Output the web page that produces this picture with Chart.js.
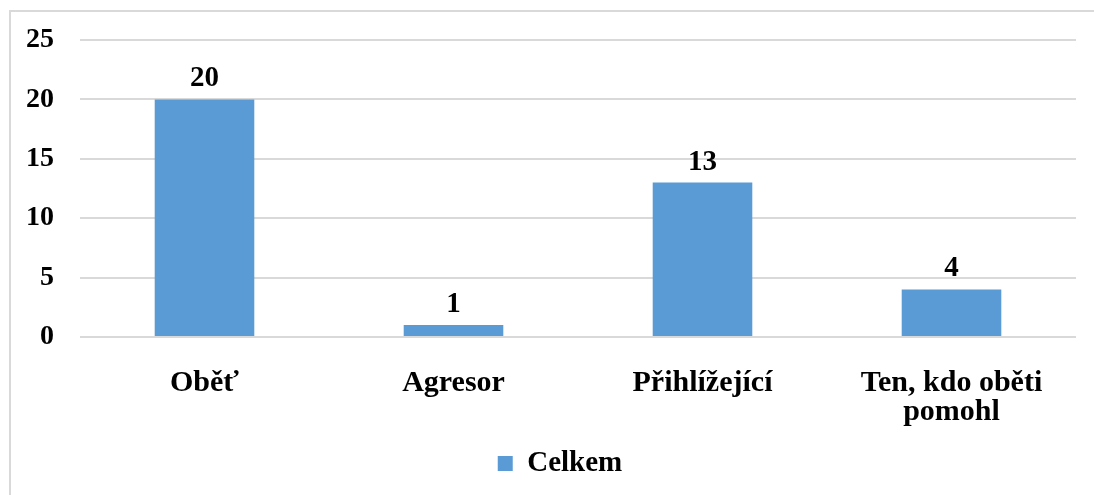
<!DOCTYPE html>
<html>
<head>
<meta charset="utf-8">
<script src="https://cdn.jsdelivr.net/npm/chart.js@4"></script>
<style>
    html, body { margin: 0; padding: 0; background: #fff; overflow: hidden; }
    #wrap { position: absolute; left: 0; top: 0; width: 1094px; height: 495px; }
</style>
</head>
<body>
<div id="wrap"><canvas id="barChart"></canvas></div>
<script>
const categories = ["Oběť", "Agresor", "Přihlížející", ["Ten, kdo oběti", "pomohl"]];
const values = [20, 1, 13, 4];
const seriesName = "Celkem";
const yTicks = [0, 5, 10, 15, 20, 25];

const serif = "'Liberation Serif', 'Times New Roman', serif";

// rámeček grafu (jen horní a levá hrana jsou v záběru)
const frame = {
    id: "frame",
    beforeDraw(chart) {
        const ctx = chart.ctx;
        ctx.save();
        ctx.strokeStyle = "#d9d9d9";
        ctx.lineWidth = 2;
        ctx.beginPath();
        ctx.moveTo(10, chart.height);
        ctx.lineTo(10, 11);
        ctx.lineTo(chart.width, 11);
        ctx.stroke();
        ctx.restore();
    },
    // legenda je v originále trochu vpravo od středu
    afterLayout(chart) {
        chart.legend.left += 22;
        chart.legend.right += 22;
    }
};

// popisky hodnot nad sloupci
const valueLabels = {
    id: "valueLabels",
    afterDatasetsDraw(chart) {
        const ctx = chart.ctx;
        const meta = chart.getDatasetMeta(0);
        ctx.save();
        ctx.font = "bold 29px " + serif;
        ctx.fillStyle = "#000";
        ctx.textAlign = "center";
        ctx.textBaseline = "bottom";
        meta.data.forEach((bar, i) => {
            ctx.fillText(values[i], bar.x, bar.y - 6);
        });
        ctx.restore();
    }
};

new Chart(document.querySelector("#barChart"), {
    type: "bar",
    data: {
        labels: categories,
        datasets: [{
            label: seriesName,
            data: values,
            backgroundColor: "#5B9BD5",
            borderWidth: 0,
            categoryPercentage: 0.4,
            barPercentage: 1
        }]
    },
    options: {
        responsive: true,
        maintainAspectRatio: false,
        animation: false,
        layout: { padding: { top: 30, right: 18, bottom: 7, left: 0 } },
        plugins: {
            tooltip: { enabled: false },
            legend: {
                position: "bottom",
                labels: {
                    color: "#000",
                    font: { family: serif, size: 29, weight: "bold" },
                    boxWidth: 15,
                    boxHeight: 15,
                    padding: 10
                }
            }
        },
        scales: {
            x: {
                grid: { display: false },
                border: { display: false },
                ticks: { color: "#000", font: { family: serif, size: 30, weight: "bold", lineHeight: 0.95 }, padding: 24, maxRotation: 0 },
                afterFit(scale) { scale.height = 102; }
            },
            y: {
                min: 0,
                max: 25,
                afterBuildTicks(scale) { scale.ticks = yTicks.map(v => ({ value: v })); },
                grid: { color: "#d9d9d9", lineWidth: 2, drawTicks: false },
                border: { display: false },
                ticks: { color: "#000", font: { family: serif, size: 28, weight: "bold", lineHeight: 1.0 }, padding: 26 },
                afterFit(scale) { scale.width = 80; }
            }
        }
    },
    plugins: [frame, valueLabels]
});
</script>
</body>
</html>
